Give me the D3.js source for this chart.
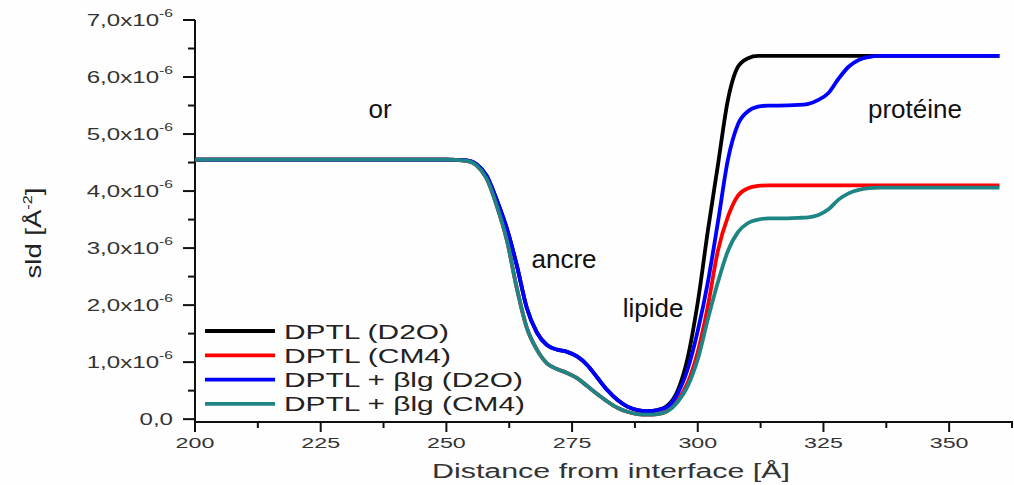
<!DOCTYPE html>
<html>
<head>
<meta charset="utf-8">
<script src="https://cdn.jsdelivr.net/npm/d3@7"></script>
<style>
  body { margin: 0; background: #fefefe; }
  svg { display: block; font-family: "Liberation Sans", Arial, sans-serif; }
</style>
</head>
<body>
<div id="Area"></div>
<script>
// distance from interface [Å]
let xs = [200, 250, 254, 256, 258, 260, 262, 264, 266, 268, 270, 272, 274, 276, 278, 280,
          282, 284, 286, 288, 290, 292, 294, 296, 298, 300, 302, 304, 306, 308, 310, 312,
          314, 316, 320, 322, 324, 326, 328, 330, 332, 334, 336, 340, 360];

// sld values in units of 1e-6 Å^-2
let dptlD2O = [4.55, 4.55, 4.54, 4.47, 4.27, 3.85, 3.35, 2.70, 1.95, 1.52, 1.30, 1.22, 1.18, 1.10, 0.95, 0.73,
               0.51, 0.34, 0.22, 0.16, 0.14, 0.16, 0.24, 0.50, 1.08, 2.05, 3.30, 4.45, 5.60, 6.18, 6.33, 6.37,
               6.37, 6.37, 6.37, 6.37, 6.37, 6.37, 6.37, 6.37, 6.37, 6.37, 6.37, 6.37, 6.37];
let dptlCM4 = [4.55, 4.55, 4.53, 4.45, 4.22, 3.75, 3.15, 2.30, 1.60, 1.22, 0.98, 0.88, 0.81, 0.72, 0.58, 0.44,
               0.31, 0.20, 0.13, 0.09, 0.08, 0.09, 0.15, 0.33, 0.64, 1.18, 1.98, 2.95, 3.55, 3.92, 4.05, 4.09,
               4.10, 4.10, 4.10, 4.10, 4.10, 4.10, 4.10, 4.10, 4.10, 4.10, 4.10, 4.10, 4.10];
let blgD2O = [4.55, 4.55, 4.54, 4.47, 4.27, 3.85, 3.35, 2.70, 1.95, 1.52, 1.30, 1.22, 1.18, 1.10, 0.95, 0.73,
              0.51, 0.34, 0.22, 0.16, 0.14, 0.16, 0.22, 0.45, 0.88, 1.55, 2.40, 3.45, 4.55, 5.17, 5.40, 5.48,
              5.50, 5.50, 5.51, 5.53, 5.60, 5.72, 5.97, 6.18, 6.30, 6.35, 6.37, 6.37, 6.37];
let blgCM4 = [4.55, 4.55, 4.53, 4.45, 4.22, 3.75, 3.15, 2.30, 1.60, 1.22, 0.98, 0.88, 0.81, 0.72, 0.58, 0.44,
              0.31, 0.20, 0.13, 0.09, 0.08, 0.09, 0.14, 0.30, 0.58, 1.05, 1.75, 2.40, 2.95, 3.28, 3.44, 3.50,
              3.52, 3.52, 3.53, 3.54, 3.58, 3.68, 3.85, 3.96, 4.02, 4.05, 4.06, 4.06, 4.06];

let seriesNames = ["DPTL (D2O)", "DPTL (CM4)", "DPTL + βlg (D2O)", "DPTL + βlg (CM4)"];
let seriesColors = ["#000000", "#ff0000", "#0000ff", "#1e8585"];
let seriesValues = [dptlD2O, dptlCM4, blgD2O, blgCM4];

let yTicks = [0, 1, 2, 3, 4, 5, 6, 7];
let xTicks = [200, 225, 250, 275, 300, 325, 350];

let regionLabels = ["or", "ancre", "lipide", "protéine"];
let regionX = [236.8, 273.4, 291.1, 343.2];
let regionY = [5.28, 2.65, 1.79, 5.28];

let width = 1014, height = 485;

let svg = d3.select("#Area")
    .append("svg")
    .attr("width", width)
    .attr("height", height);

let x = d3.scaleLinear().domain([200, 362.7]).range([195, 1013]);
let y = d3.scaleLinear().domain([-0.05, 7.0]).range([422, 20]);

// minor ticks
let xMinor = d3.range(212.5, 363, 25);
let yMinor = d3.range(0.5, 7, 1);

// x axis
let gx = svg.append("g").attr("transform", "translate(0,422)");
gx.append("line").attr("x1", 194).attr("x2", 1013).attr("stroke", "#111").attr("stroke-width", 2);
gx.selectAll(".maj").data(xTicks).enter().append("line")
    .attr("x1", d => x(d)).attr("x2", d => x(d)).attr("y1", 0).attr("y2", 10)
    .attr("stroke", "#111").attr("stroke-width", 2);
gx.selectAll(".min").data(xMinor).enter().append("line")
    .attr("x1", d => x(d)).attr("x2", d => x(d)).attr("y1", 0).attr("y2", 6)
    .attr("stroke", "#111").attr("stroke-width", 2);
gx.selectAll("text").data(xTicks).enter().append("text")
    .attr("transform", d => "translate(" + x(d) + ",26) scale(1.5,1)")
    .attr("text-anchor", "middle")
    .attr("font-size", 15.5).attr("fill", "#333")
    .text(d => d);

// y axis
let gy = svg.append("g").attr("transform", "translate(195,0)");
gy.append("line").attr("y1", 20).attr("y2", 423).attr("stroke", "#111").attr("stroke-width", 2);
gy.selectAll(".maj").data(yTicks).enter().append("line")
    .attr("y1", d => y(d)).attr("y2", d => y(d)).attr("x1", 0).attr("x2", -12)
    .attr("stroke", "#111").attr("stroke-width", 2);
gy.selectAll(".min").data(yMinor).enter().append("line")
    .attr("y1", d => y(d)).attr("y2", d => y(d)).attr("x1", 0).attr("x2", -7)
    .attr("stroke", "#111").attr("stroke-width", 2);
gy.selectAll("text").data(yTicks).enter().append("text")
    .attr("transform", d => "translate(-22," + (y(d) + 6) + ") scale(1.42,1)")
    .attr("text-anchor", "end")
    .attr("font-size", 17).attr("fill", "#333")
    .each(function(d) {
        let t = d3.select(this);
        if (d === 0) { t.text("0,0"); return; }
        t.append("tspan").text(d + ",0x10");
        t.append("tspan").attr("dy", -9).attr("font-size", 11).text("-6");
    });

// axis titles
let yTitle = svg.append("text")
    .attr("transform", "translate(41,233) rotate(-90) scale(1.25,1)")
    .attr("text-anchor", "middle")
    .attr("font-size", 22).attr("fill", "#222");
yTitle.append("tspan").text("sld [Å");
yTitle.append("tspan").attr("dy", -9).attr("font-size", 13).text("-2");
yTitle.append("tspan").attr("dy", 9).text("]");

svg.append("text")
    .attr("x", 611).attr("y", 478)
    .attr("text-anchor", "middle")
    .attr("font-size", 19.5).attr("fill", "#333")
    .attr("textLength", 358).attr("lengthAdjust", "spacingAndGlyphs")
    .text("Distance from interface [Å]");

// curves
let line = d3.line()
    .x((d, i) => x(xs[i]))
    .y(d => y(d))
    .curve(d3.curveMonotoneX);

svg.selectAll(".curve").data(seriesValues).enter().append("path")
    .attr("class", "curve")
    .attr("d", d => line(d))
    .attr("fill", "none")
    .attr("stroke", (d, i) => seriesColors[i])
    .attr("stroke-width", 3.8)
    .attr("stroke-linejoin", "round");

// region labels
svg.selectAll(".region").data(regionLabels).enter().append("text")
    .attr("x", (d, i) => x(regionX[i]))
    .attr("y", (d, i) => y(regionY[i]))
    .attr("text-anchor", "middle")
    .attr("font-size", 26).attr("fill", "#111")
    .text(d => d);

// legend
let legendWidths = [165, 167, 239, 241];
let legend = svg.append("g");
seriesNames.forEach(function(name, i) {
    let ly = 331 + i * 24.3;
    legend.append("line")
        .attr("x1", 205).attr("x2", 275).attr("y1", ly).attr("y2", ly)
        .attr("stroke", seriesColors[i]).attr("stroke-width", 3.8);
    legend.append("text")
        .attr("x", 284).attr("y", ly + 7.5)
        .attr("font-size", 20).attr("fill", "#222")
        .attr("textLength", legendWidths[i]).attr("lengthAdjust", "spacingAndGlyphs")
        .text(name);
});
</script>
</body>
</html>
